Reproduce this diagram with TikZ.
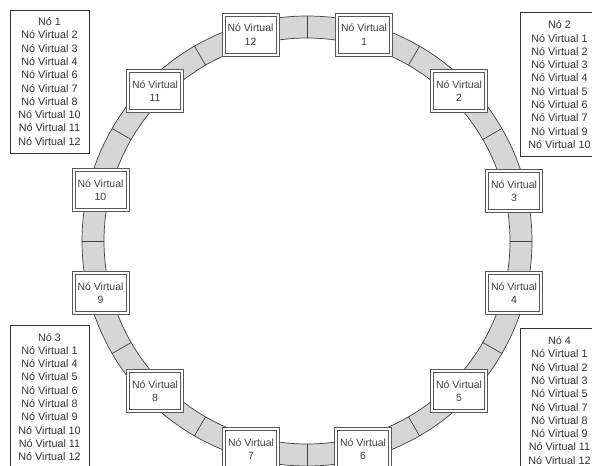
\documentclass[tikz,border=0pt]{standalone}
\usepackage{fontspec}
\setmainfont{Liberation Sans}
\begin{document}
\begin{tikzpicture}[x=1pt,y=-1pt,
  vnode/.style={draw=black!65, line width=0.7pt, fill=white,
    minimum width=51pt, minimum height=37pt, inner sep=0pt, align=center,
    font=\fontsize{10.5}{13.3}\selectfont, text=black!75},
  vframe/.style={draw=black!65, line width=0.7pt, fill=white},
  infobox/.style={draw=black!80, line width=0.8pt, fill=white, minimum width=79pt,
    minimum height=144pt, inner sep=0pt, align=center,
    font=\fontsize{10.8}{13.3}\selectfont, text=black!80},
  ringline/.style={draw=black!75, line width=0.7pt}]
\useasboundingbox (0,0) rectangle (592,466);
\fill[white] (0,0) rectangle (592,466);
\coordinate (C) at (307,241);
% ring band
\fill[black!16, even odd rule] (C) circle (225pt) (C) circle (203pt);
\draw[ringline] (C) circle (225pt);
\draw[ringline] (C) circle (203pt);
\foreach \a in {0,30,...,330}
  \draw[ringline, shift={(C)}] (\a:203pt) -- (\a:225pt);
% outer frames of the virtual nodes
\foreach \p in {(364,34.5),(459,91),(514,191),(514,293),(459,391),(363,449),(251,449),(155,391),(100.5,293),(100.5,190),(155,91),(250.5,34.5)}
  \draw[vframe, shift={\p}] (-28.5,-21.5) rectangle (28.5,21.5);
% virtual nodes
\node[vnode] (v1)  at (364,34.5) {Nó Virtual\\1};
\node[vnode] (v2)  at (459,91)   {Nó Virtual\\2};
\node[vnode] (v3)  at (514,191)  {Nó Virtual\\3};
\node[vnode] (v4)  at (514,293)  {Nó Virtual\\4};
\node[vnode] (v5)  at (459,391)  {Nó Virtual\\5};
\node[vnode] (v6)  at (363,449)  {Nó Virtual\\6};
\node[vnode] (v7)  at (251,449)  {Nó Virtual\\7};
\node[vnode] (v8)  at (155,391)  {Nó Virtual\\8};
\node[vnode] (v9)  at (100.5,293) {Nó Virtual\\9};
\node[vnode] (v10) at (100.5,190) {Nó Virtual\\10};
\node[vnode] (v11) at (155,91)   {Nó Virtual\\11};
\node[vnode] (v12) at (250.5,34.5) {Nó Virtual\\12};
% info boxes
\node[infobox, minimum height=143pt] (n1) at (49.5,81.5)
  {Nó 1\\Nó Virtual 2\\Nó Virtual 3\\Nó Virtual 4\\Nó Virtual 6\\Nó Virtual 7\\Nó Virtual 8\\Nó Virtual 10\\Nó Virtual 11\\Nó Virtual 12};
\node[infobox] (n2) at (559.5,84.7)
  {Nó 2\\Nó Virtual 1\\Nó Virtual 2\\Nó Virtual 3\\Nó Virtual 4\\Nó Virtual 5\\Nó Virtual 6\\Nó Virtual 7\\Nó Virtual 9\\Nó Virtual 10};
\node[infobox] (n3) at (49.5,397)
  {Nó 3\\Nó Virtual 1\\Nó Virtual 4\\Nó Virtual 5\\Nó Virtual 6\\Nó Virtual 8\\Nó Virtual 9\\Nó Virtual 10\\Nó Virtual 11\\Nó Virtual 12};
\node[infobox] (n4) at (559.5,400.5)
  {Nó 4\\Nó Virtual 1\\Nó Virtual 2\\Nó Virtual 3\\Nó Virtual 5\\Nó Virtual 7\\Nó Virtual 8\\Nó Virtual 9\\Nó Virtual 11\\Nó Virtual 12};
\end{tikzpicture}
\end{document}
